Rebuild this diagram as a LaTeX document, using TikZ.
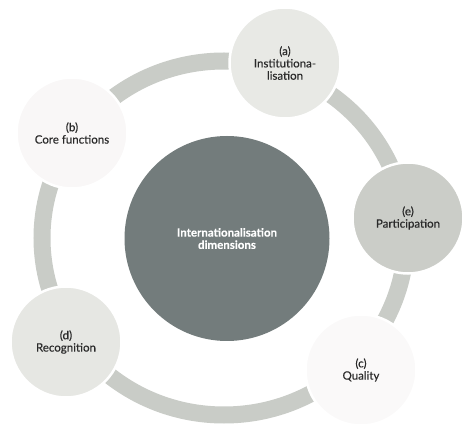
\documentclass[tikz,border=0pt]{standalone}
\usepackage{fontspec}
\setmainfont{Lato}
\newfontfamily\hubfont{Lato}[UprightFont={* Bold}, FakeBold=0.2]
\newfontfamily\satfont{Lato}[FakeBold=0.3]
\definecolor{ringc}{HTML}{C9CCC7}
\definecolor{centc}{HTML}{737C7C}
\definecolor{lightA}{HTML}{E8E9E5}
\definecolor{paleB}{HTML}{F9F7F7}
\definecolor{midE}{HTML}{CBCDC8}
\definecolor{lightD}{HTML}{E6E7E3}
\definecolor{paleC}{HTML}{FAF9F9}
\definecolor{txt}{HTML}{2A2A2A}
\begin{document}
\begin{tikzpicture}[x=1pt,y=1pt,
  sat/.style={circle, minimum size=111pt, inner sep=0pt, draw=white, line width=2.5pt,
    align=center, text=txt, font=\satfont\fontsize{11.5}{12.3}\selectfont},
  hub/.style={circle, minimum size=205pt, inner sep=0pt, fill=centc, text=white,
    align=center, font=\hubfont\fontsize{11.5}{12.3}\selectfont}]
\useasboundingbox (0,0) rectangle (474,434);
\fill[white] (0,0) rectangle (474,434);
\draw[ringc, line width=17pt] (224,196) ellipse [x radius=182, y radius=177];
\node[hub] (hub) at (227,195.5) {Internationalisation\\dimensions};
\node[sat, fill=lightA] (a) at (285,371) {(a)\\Institutiona-\\lisation};
\node[sat, fill=paleB] (b) at (72,301) {(b)\\Core functions};
\node[sat, fill=midE] (e) at (408,216) {(e)\\Participation};
\node[sat, fill=lightD] (d) at (66,92) {(d)\\Recognition};
\node[sat, fill=paleC] (c) at (361,64) {(c)\\Quality};
\end{tikzpicture}
\end{document}
